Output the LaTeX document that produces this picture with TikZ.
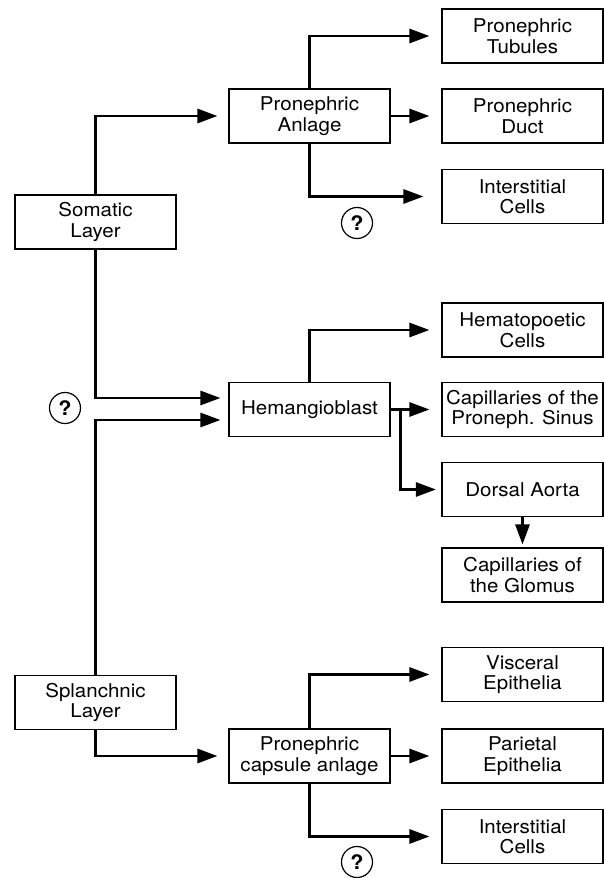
\documentclass[tikz,border=0pt]{standalone}
\usepackage{fontspec}
\setmainfont[FakeStretch=1.08]{TeX Gyre Heros}
\usetikzlibrary{arrows.meta}
\begin{document}
\begin{tikzpicture}[x=1pt,y=-1pt,
  box/.style={draw,line width=1.1pt,minimum width=161pt,minimum height=54pt,inner sep=0pt,align=center,font=\fontsize{19}{20.5}\selectfont},
  arr/.style={line width=2.8pt,-{Triangle[length=20pt,width=14pt]}},
  qmark/.style={circle,draw,line width=1.2pt,minimum size=31pt,inner sep=0pt,font=\fontsize{20}{20}\selectfont\bfseries}]
\useasboundingbox (0,0) rectangle (604,878);
% left column
\node[box] (som) at (95.5,222) {Somatic\\Layer};
\node[box] (spl) at (95.5,702.5) {Splanchnic\\Layer};
% middle column
\node[box] (anl) at (309.5,116) {Pronephric\\Anlage};
\node[box] (hem) at (309.5,409.5) {Hemangioblast};
\node[box] (cap) at (309.5,756) {Pronephric\\capsule anlage};
% right column
\node[box] (tub) at (522.5,36) {Pronephric\\Tubules};
\node[box] (duct) at (522.5,116) {Pronephric\\Duct};
\node[box] (int1) at (522.5,196.5) {Interstitial\\Cells};
\node[box] (hema) at (522.5,330) {Hematopoetic\\Cells};
\node[box] (sin) at (522.5,409.5) {Capillaries of the\\Proneph. Sinus};
\node[box] (dor) at (522.5,489.5) {Dorsal Aorta};
\node[box] (glo) at (522.5,575) {Capillaries of\\the Glomus};
\node[box] (vis) at (522.5,674.5) {Visceral\\Epithelia};
\node[box] (par) at (522.5,756) {Parietal\\Epithelia};
\node[box] (int2) at (522.5,836.5) {Interstitial\\Cells};
% question marks
\node[qmark] (q1) at (357,223) {?};
\node[qmark] (q2) at (65,408) {?};
\node[qmark] (q3) at (357,862) {?};
% connectors
\draw[arr,shorten >=11pt] (som.north) |- (anl.west);
\draw[arr,shorten >=12pt] (anl.north) |- (tub.west);
\draw[arr,shorten >=12pt] (anl.east) -- (duct.west);
\draw[arr,shorten >=18pt] (anl.south) |- (int1.west);
\draw[arr,shorten >=8pt] (som.south) |- ([yshift=11.5pt]hem.west);
\draw[arr,shorten >=8pt] (spl.north) |- ([yshift=-10.5pt]hem.west);
\draw[arr,shorten >=12pt] (hem.north) |- (hema.west);
\draw[arr,shorten >=12pt] (hem.east) -- (sin.west);
\draw[arr,shorten >=5.5pt] ([xshift=10pt]hem.east) |- (dor.west);
\draw[arr,shorten >=3pt] (dor.south) -- (glo.north);
\draw[arr,shorten >=11pt] (spl.south) |- (cap.west);
\draw[arr,shorten >=12pt] (cap.north) |- (vis.west);
\draw[arr,shorten >=12pt] (cap.east) -- (par.west);
\draw[arr,shorten >=12pt] (cap.south) |- (int2.west);
\end{tikzpicture}
\end{document}
